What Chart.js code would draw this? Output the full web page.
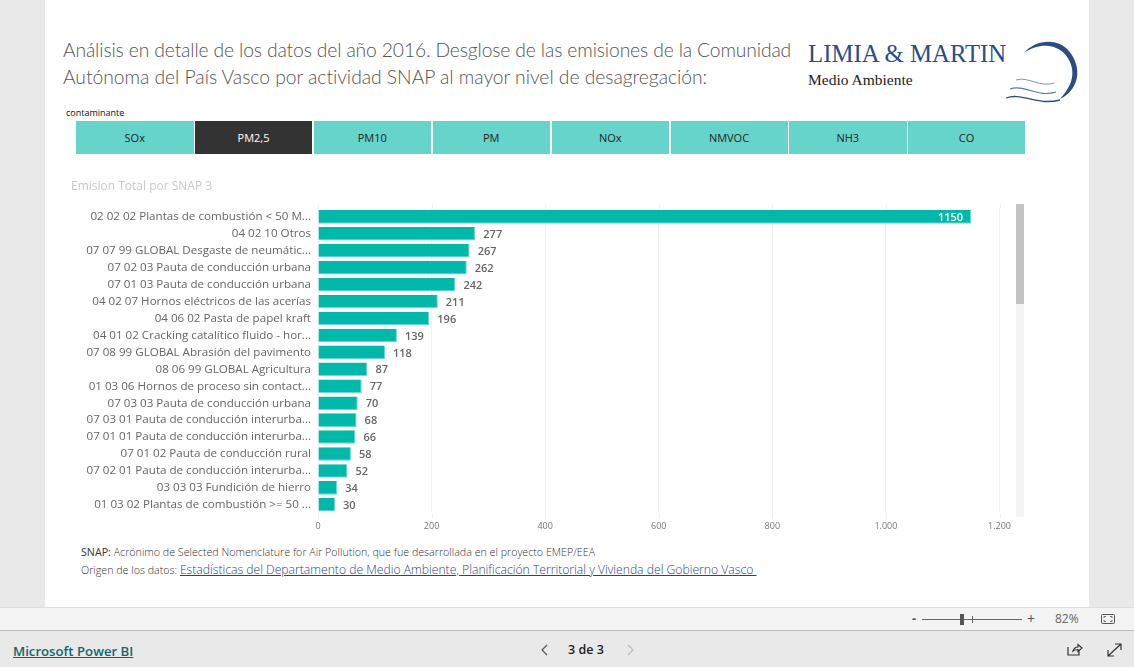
<!DOCTYPE html>
<html lang="es"><head><meta charset="utf-8">
<script src="https://cdn.jsdelivr.net/npm/chart.js@4"></script>
<style>
html,body{margin:0;padding:0;width:1134px;height:667px;overflow:hidden;background:#e9e9e9;font-family:"Open Sans",sans-serif}
.a{position:absolute;white-space:nowrap}
#page{left:45px;top:0;width:1044px;height:607px;background:#fff}
.h{left:63px;font:300 19.3px/27px Lato,sans-serif;color:#555}
.tab{top:121px;height:33px;background:#66d4cb;color:#222;font:11px/33px "Open Sans",sans-serif;text-align:center}
#status{left:0;top:607px;width:1134px;height:22px;background:#f3f3f3;border-top:1px solid #ddd;border-bottom:1px solid #bdbdbd}
canvas{position:absolute;left:71px;top:177px}
</style></head><body>
<div class="a" id="page"></div>
<div class="a h" style="top:36px;letter-spacing:-.135px">Análisis en detalle de los datos del año 2016. Desglose de las emisiones de la Comunidad</div>
<div class="a h" style="top:63px;letter-spacing:-.03px">Autónoma del País Vasco por actividad SNAP al mayor nivel de desagregación:</div>
<div class="a" style="left:808px;top:39px;font:24.8px/30px 'Liberation Serif',serif;color:#2b4d86">LIMIA &amp; MARTIN</div>
<div class="a" style="left:808px;top:70px;font:15.5px/20px 'Liberation Serif',serif;color:#222">Medio Ambiente</div>
<svg class="a" style="left:1000px;top:36px" width="85" height="70" viewBox="0 0 85 70">
<path d="M24 17 C36 3 58 2 69 15 C83 32 79 54 60 63 C70 52 76 40 70 26 C63 9 42 4 24 17Z" fill="#2b4d86"/>
<path d="M6 62 C22 56 36 70 60 64" fill="none" stroke="#2b4d86" stroke-width="1.3"/>
<path d="M10 53 C24 48 38 62 56 56" fill="none" stroke="#5d78a8" stroke-width="1.2"/>
<path d="M16 44 C28 40 40 52 54 47" fill="none" stroke="#8095bb" stroke-width="1"/>
</svg>
<div class="a" style="left:66px;top:106px;font:9px/14px 'Open Sans',sans-serif;color:#111">contaminante</div>
<div id="tabs"></div>
<canvas id="c" width="950" height="361" style="width:950px;height:361px"></canvas>
<div class="a" style="left:1016px;top:204px;width:8px;height:313px;background:#f3f3f3"></div>
<div class="a" style="left:1016px;top:204px;width:8px;height:100px;background:#c4c4c4"></div>
<div class="a" style="left:81px;top:545px;font:300 10.7px/15px 'Open Sans',sans-serif;color:#333"><span style="font-weight:400">SNAP:</span> Acrónimo de Selected Nomenclature for Air Pollution, que fue desarrollada en el proyecto EMEP/EEA</div>
<div class="a" style="left:81px;top:562px;font:300 10.7px/15px 'Open Sans',sans-serif;color:#333">Origen de los datos: <a style="font-size:12.17px;color:#2e3f86;text-decoration:underline">Estadísticas del Departamento de Medio Ambiente, Planificación Territorial y Vivienda del Gobierno Vasco&nbsp;</a></div>
<div class="a" id="status"></div>
<div class="a" style="left:912px;top:610px;font:bold 13px/16px 'Open Sans';color:#555">-</div>
<div class="a" style="left:922px;top:619px;width:100px;height:1px;background:#666"></div>
<div class="a" style="left:960px;top:614px;width:4px;height:11px;background:#555"></div>
<div class="a" style="left:972px;top:616px;width:1px;height:7px;background:#666"></div>
<div class="a" style="left:1027px;top:610px;font:14px/17px 'Open Sans';color:#555">+</div>
<div class="a" style="left:1055px;top:611px;font:12px/16px 'Open Sans';color:#666">82%</div>
<svg class="a" style="left:1100px;top:612px" width="16" height="14"><rect x="1.5" y="2.5" width="13" height="9" rx="1" fill="none" stroke="#555"/><path d="M4 6V4.5H6M10 4.5H12V6M12 8V9.5H10M6 9.5H4V8" fill="none" stroke="#555" stroke-width=".8"/></svg>
<div class="a" style="left:13px;top:642px;font:600 13.2px/18px 'Open Sans';color:#11666e;text-decoration:underline">Microsoft Power BI</div>
<svg class="a" style="left:538px;top:643px" width="100" height="14"><path d="M9 2L4 7L9 12" fill="none" stroke="#555" stroke-width="1.2"/><path d="M90 2L95 7L90 12" fill="none" stroke="#bbb" stroke-width="1.2"/></svg>
<div class="a" style="left:568px;top:641px;font:600 12.5px/18px 'Open Sans';color:#222">3 de 3</div>
<svg class="a" style="left:1066px;top:642px" width="60" height="16"><path d="M2 5V13H13V9M7 9C8 6 10 5 12 5V2.5L16 6L12 9.5V7.5C10 7.5 8.5 8 7 9Z" fill="none" stroke="#333" stroke-width="1.2"/><path d="M42 14L55 2M49 2H55V8M42 8V14H48" fill="none" stroke="#333" stroke-width="1.2"/></svg>
<script>
const categories=["02 02 02 Plantas de combustión < 50 M...","04 02 10 Otros","07 07 99 GLOBAL Desgaste de neumátic...","07 02 03 Pauta de conducción urbana","07 01 03 Pauta de conducción urbana","04 02 07 Hornos eléctricos de las acerías","04 06 02 Pasta de papel kraft","04 01 02 Cracking catalítico fluido - hor...","07 08 99 GLOBAL Abrasión del pavimento","08 06 99 GLOBAL Agricultura","01 03 06 Hornos de proceso sin contact...","07 03 03 Pauta de conducción urbana","07 03 01 Pauta de conducción interurba...","07 01 01 Pauta de conducción interurba...","07 01 02 Pauta de conducción rural","07 02 01 Pauta de conducción interurba...","03 03 03 Fundición de hierro","01 03 02 Plantas de combustión >= 50 ..."];
const emissions=[1150,277,267,262,242,211,196,139,118,87,77,70,68,66,58,52,34,30];
const xTickLabels={0:"0",200:"200",400:"400",600:"600",800:"800",1000:"1.000",1200:"1.200"};
const pollutants=["SOx","PM2,5","PM10","PM","NOx","NMVOC","NH3","CO"];
const selectedPollutant="PM2,5";
const chartTitle="Emision Total por SNAP 3";

const tabs=document.getElementById('tabs');
const tabEdges=[76,195,313.5,432.5,551.5,670.5,789,908,1026.5];
pollutants.forEach((p,i)=>{const d=document.createElement('div');d.className='a tab';d.textContent=p;
 d.style.left=tabEdges[i]+'px';d.style.width=(tabEdges[i+1]-tabEdges[i]-1.5)+'px';
 if(p===selectedPollutant){d.style.background='#333';d.style.color='#fff';}
 tabs.appendChild(d);});

const extras={id:'extras',
 beforeDatasetsDraw(ch){const {ctx,scales:{x},chartArea:a}=ch;ctx.save();ctx.strokeStyle='#f1f1f1';ctx.lineWidth=1;
  x.ticks.forEach(t=>{const px=Math.round(x.getPixelForValue(t.value))+.5;ctx.beginPath();ctx.moveTo(px,a.top-4);ctx.lineTo(px,a.top);ctx.moveTo(px,a.bottom);ctx.lineTo(px,a.bottom+5);ctx.stroke();});ctx.restore();},
 afterDatasetsDraw(ch){const {ctx}=ch;const m=ch.getDatasetMeta(0);ctx.save();ctx.font='600 11px "Open Sans",sans-serif';ctx.textBaseline='middle';
  m.data.forEach((b,i)=>{const v=emissions[i];if(v>1000){ctx.fillStyle='#fff';ctx.textAlign='right';ctx.fillText(v,b.x-8,b.y+1);}
   else{ctx.fillStyle='#666';ctx.textAlign='left';ctx.fillText(v,b.x+8,b.y+1);}});ctx.restore();}};

new Chart(document.getElementById('c'),{type:'bar',plugins:[extras],
 data:{labels:categories,datasets:[{data:emissions,backgroundColor:'#01b8aa',borderColor:'#6fd9cf',borderWidth:{top:0,left:0,right:1,bottom:1},borderSkipped:false,categoryPercentage:.8,barPercentage:1}]},
 options:{indexAxis:'y',responsive:false,animation:false,
  layout:{padding:{right:21.5}},
  plugins:{legend:{display:false},tooltip:{enabled:false},
   title:{display:true,text:chartTitle,align:'start',color:'#c8c8c8',font:{family:'"Open Sans",sans-serif',size:12,weight:'400'},padding:{top:2,bottom:15}}},
  scales:{
   x:{type:'linear',min:0,max:1200,afterFit(s){s.height=24.7;},
    ticks:{stepSize:200,padding:8,maxRotation:0,color:'#777',font:{family:'"Open Sans",sans-serif',size:9},callback:v=>xTickLabels[v]},
    grid:{color:'#f1f1f1',drawTicks:false},border:{display:false}},
   y:{type:'category',afterFit(s){s.width=247;},
    ticks:{padding:7,autoSkip:false,color:'#666',font:{family:'"Open Sans",sans-serif',size:11.6}},
    grid:{display:false,drawTicks:false},border:{display:false}}}}});
</script>
</body></html>
